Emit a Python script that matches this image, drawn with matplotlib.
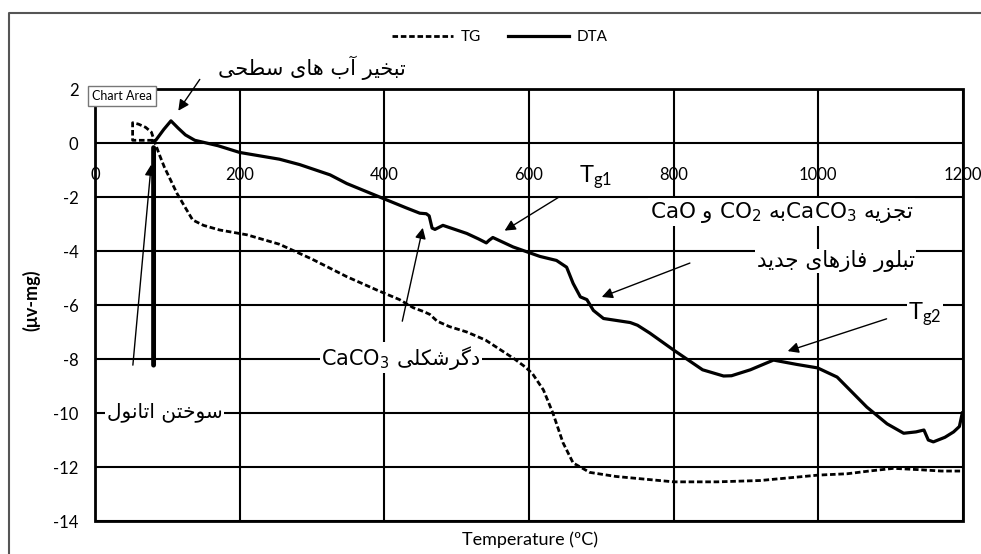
import matplotlib
matplotlib.use('Agg')
import matplotlib.pyplot as plt
from matplotlib.lines import Line2D

plt.rcParams['font.family'] = ['Lato', 'DejaVu Sans']
plt.rcParams['mathtext.fontset'] = 'dejavusans'
plt.rcParams['axes.unicode_minus'] = False

# TG curve (dashed)
tg_temp = [80, 52, 52, 60, 70, 78, 83, 90, 96, 105, 113, 125, 135, 150, 172, 210, 255,
           300, 348, 390, 421, 440, 455, 463, 473, 490, 514, 540, 560, 580, 595, 605,
           620, 633, 647, 661, 684, 720, 760, 800, 860, 920, 960, 1000, 1040, 1070,
           1104, 1140, 1170, 1196]
tg_val = [0.1, 0.1, 0.75, 0.7, 0.58, 0.4, 0.0, -0.5, -0.9, -1.4, -1.85, -2.4, -2.85, -3.05,
          -3.22, -3.4, -3.75, -4.3, -4.95, -5.45, -5.8, -6.1, -6.25, -6.35, -6.6, -6.8,
          -7.0, -7.3, -7.65, -8.0, -8.3, -8.55, -9.15, -10.0, -11.1, -11.85, -12.2,
          -12.35, -12.45, -12.55, -12.55, -12.5, -12.4, -12.3, -12.25, -12.15, -12.05,
          -12.1, -12.15, -12.15]

# DTA curve (solid)
dta_temp = [80, 84, 95, 105, 115, 125, 138, 170, 200, 255, 283, 325, 348, 398, 430,
            449, 458, 462, 466, 470, 481, 514, 530, 541, 545, 550, 578, 615, 638, 652,
            661, 671, 680, 689, 703, 740, 750, 767, 800, 840, 869, 880, 906, 938, 970,
            999, 1026, 1067, 1095, 1118, 1135, 1146, 1152, 1159, 1175, 1187, 1195, 1199]
dta_val = [0.05, 0.1, 0.5, 0.82, 0.55, 0.3, 0.1, -0.1, -0.35, -0.6, -0.8, -1.18, -1.5,
           -2.05, -2.4, -2.6, -2.62, -2.7, -3.15, -3.2, -3.05, -3.35, -3.55, -3.7, -3.6,
           -3.5, -3.85, -4.2, -4.35, -4.6, -5.2, -5.7, -5.8, -6.2, -6.5, -6.65, -6.75,
           -7.04, -7.67, -8.4, -8.63, -8.62, -8.4, -8.04, -8.2, -8.33, -8.67, -9.78,
           -10.4, -10.75, -10.7, -10.63, -11.0, -11.07, -10.9, -10.7, -10.5, -10.0]

x_ticks = [0, 200, 400, 600, 800, 1000, 1200]
y_ticks = [-14, -12, -10, -8, -6, -4, -2, 0, 2]

# Persian letters -> (isolated, final, initial, medial) presentation forms
FORMS = {
    'ا': ('\uFE8D', '\uFE8E'),
    'آ': ('\uFE81', '\uFE82'),
    'ب': ('\uFE8F', '\uFE90', '\uFE91', '\uFE92'),
    'ت': ('\uFE95', '\uFE96', '\uFE97', '\uFE98'),
    'ج': ('\uFE9D', '\uFE9E', '\uFE9F', '\uFEA0'),
    'ح': ('\uFEA1', '\uFEA2', '\uFEA3', '\uFEA4'),
    'خ': ('\uFEA5', '\uFEA6', '\uFEA7', '\uFEA8'),
    'د': ('\uFEA9', '\uFEAA'),
    'ر': ('\uFEAD', '\uFEAE'),
    'ز': ('\uFEAF', '\uFEB0'),
    'س': ('\uFEB1', '\uFEB2', '\uFEB3', '\uFEB4'),
    'ش': ('\uFEB5', '\uFEB6', '\uFEB7', '\uFEB8'),
    'ط': ('\uFEC1', '\uFEC2', '\uFEC3', '\uFEC4'),
    'ف': ('\uFED1', '\uFED2', '\uFED3', '\uFED4'),
    'ک': ('\uFB8E', '\uFB8F', '\uFB90', '\uFB91'),
    'گ': ('\uFB92', '\uFB93', '\uFB94', '\uFB95'),
    'ل': ('\uFEDD', '\uFEDE', '\uFEDF', '\uFEE0'),
    'ن': ('\uFEE5', '\uFEE6', '\uFEE7', '\uFEE8'),
    'و': ('\uFEED', '\uFEEE'),
    'ه': ('\uFEE9', '\uFEEA', '\uFEEB', '\uFEEC'),
    'ی': ('\uFBFC', '\uFBFD', '\uFBFE', '\uFBFF'),
}


def rtl(text):
    """Join Persian letters and return them in left-to-right drawing order."""
    out = []
    for i, ch in enumerate(text):
        f = FORMS.get(ch)
        if f is None:
            out.append(ch)
            continue
        prev = text[i - 1] if i > 0 else ''
        nxt = text[i + 1] if i + 1 < len(text) else ''
        join_prev = prev in FORMS and len(FORMS[prev]) == 4
        join_next = len(f) == 4 and nxt in FORMS
        if join_prev and join_next:
            out.append(f[3])
        elif join_prev:
            out.append(f[1])
        elif join_next:
            out.append(f[2])
        else:
            out.append(f[0])
    return ''.join(reversed(out))


fig = plt.figure(figsize=(9.81, 5.54), dpi=100)
ax = fig.add_axes([95 / 981, 1 - 521 / 554, 868 / 981, 432 / 554])

ax.plot(tg_temp, tg_val, color='black', lw=2.0, linestyle=(0, (2.0, 1.0)), label='TG')
ax.plot(dta_temp, dta_val, color='black', lw=2.3, label='DTA')

ax.set_xlim(0, 1200)
ax.set_ylim(-14, 2)
ax.set_xticks(x_ticks)
ax.set_yticks(y_ticks)
ax.grid(True, color='black', lw=1.5)
ax.set_axisbelow(True)
for s in ax.spines.values():
    s.set_visible(False)
# x labels sit just under the zero line
ax.spines['bottom'].set_position(('data', 0))
ax.patch.set_edgecolor('black')
ax.patch.set_linewidth(2.0)
ax.tick_params(axis='x', length=0, pad=17, labelsize=12)
ax.tick_params(axis='y', length=0, pad=12, labelsize=12)

ax.set_ylabel('(μv-mg)', fontsize=13, fontweight='bold')
ax.yaxis.set_label_coords(-0.063, 0.51)
fig.text(530 / 981, 1 - 540 / 554, 'Temperature (ºC)', ha='center', va='center', fontsize=13)

ax.legend(loc='center', bbox_to_anchor=(500 / 981, 1 - 37 / 554), bbox_transform=fig.transFigure,
          ncol=2, frameon=False, handlelength=4, handletextpad=0.5, columnspacing=1.8,
          fontsize=11)

# annotations
box = dict(facecolor='white', edgecolor='none', pad=1)
arrow = dict(arrowstyle='-|>', color='black', lw=1, mutation_scale=16)
arial = ['DejaVu Sans']

ax.text(300, 2.78, rtl('تبخیر آب های سطحی'), ha='center', va='center', fontsize=15,
        family=arial, clip_on=False)
ax.annotate('', xy=(113, 1.11), xytext=(147, 2.44), arrowprops=arrow, annotation_clip=False)

ax.text(96, -9.96, rtl('سوختن اتانول'), ha='center', va='center', fontsize=14.5,
        family=arial, bbox=box)
ax.annotate('', xy=(78, -0.7), xytext=(52, -8.33), arrowprops=arrow)
ax.annotate('', xy=(81, -0.07), xytext=(81, -8.33),
            arrowprops=dict(arrowstyle='-', color='black', lw=3.5))

ax.text(423, -7.96, 'CaCO$_3$ ' + rtl('دگرشکلی'), ha='center', va='center', fontsize=15,
        family=arial, bbox=box)
ax.annotate('', xy=(454, -3.04), xytext=(424, -6.7), arrowprops=arrow)

ax.text(692, -1.26, r'$\mathregular{T_{g1}}$', ha='center', va='center', fontsize=17, bbox=box)
ax.annotate('', xy=(563, -3.3), xytext=(644, -1.96), arrowprops=arrow)

ax.text(949, -2.56, 'CaO ' + rtl('و') + ' CO$_2$ ' + rtl('به') + 'CaCO$_3$ ' + rtl('تجزیه'),
        ha='center', va='center', fontsize=15.5, family=arial, bbox=box)

ax.text(1024, -4.37, rtl('تبلور فازهای جدید'), ha='center', va='center', fontsize=15.5,
        family=arial, bbox=box)
ax.annotate('', xy=(697, -5.74), xytext=(826, -4.41), arrowprops=arrow)

ax.text(1147, -6.33, r'$\mathregular{T_{g2}}$', ha='center', va='center', fontsize=17, bbox=box)
ax.annotate('', xy=(954, -7.74), xytext=(1098, -6.48), arrowprops=arrow)

fig.text(122 / 981, 1 - 96 / 554, 'Chart Area', ha='center', va='center', fontsize=9,
         bbox=dict(facecolor='white', edgecolor='#777777', boxstyle='square,pad=0.3'))

# outer frame on the left and top
fig.add_artist(Line2D([9 / 981, 9 / 981, 1], [0, 1 - 13 / 554, 1 - 13 / 554],
                      transform=fig.transFigure, color='#555555', lw=1.5))

fig.savefig('out.png', dpi=100)
